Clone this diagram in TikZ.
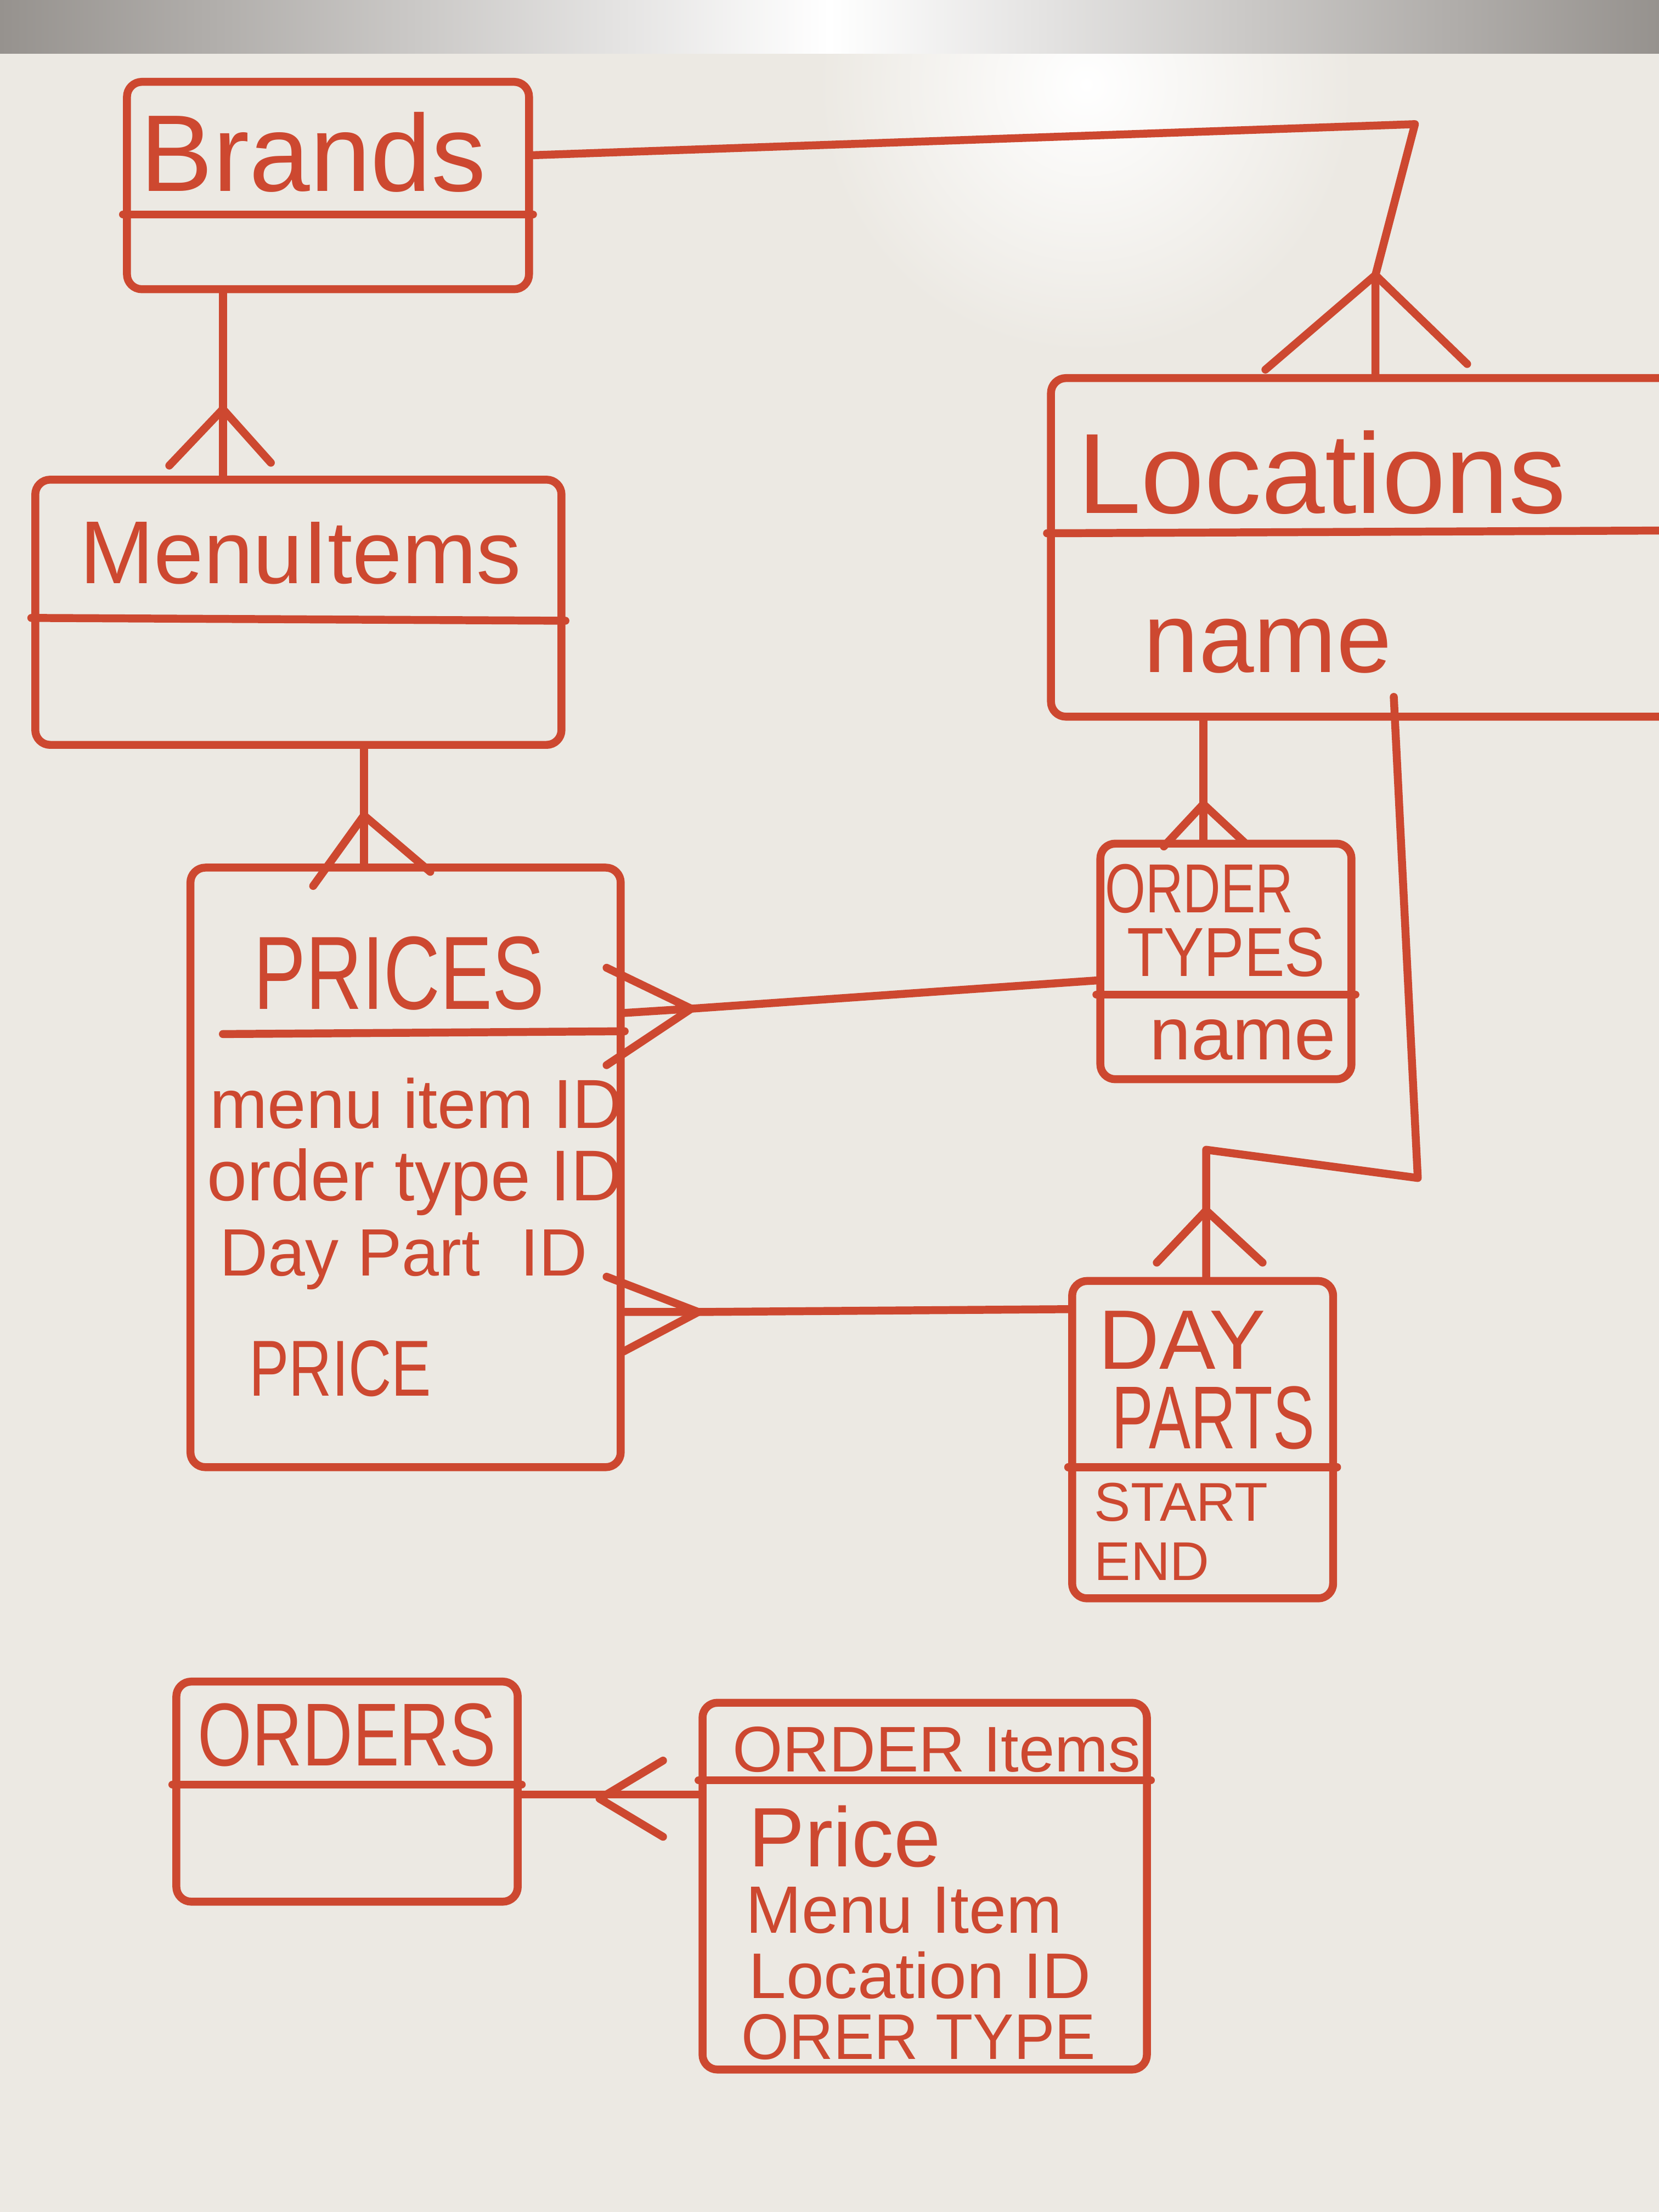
\documentclass[tikz,border=0pt]{standalone}
\usepackage{fontspec}
\usepackage{graphicx}
\setmainfont{Liberation Sans}
\usetikzlibrary{fit}
\definecolor{marker}{RGB}{205,72,48}
\definecolor{board}{RGB}{236,233,227}
\definecolor{frame}{RGB}{150,146,142}
\newcommand{\hsqz}[2]{\scalebox{#1}[1]{#2}}
\begin{document}
\begin{tikzpicture}[x=0.01cm,y=-0.01cm,
  ink/.style={draw=marker, line width=1.6pt, line cap=round, line join=round},
  box/.style={ink, rectangle, inner sep=0pt, rounded corners=3pt},
  lbl/.style={text=marker, inner sep=0pt, anchor=center},
  attr/.style={text=marker, inner sep=0pt, anchor=west},
  fs/.style={font=\fontsize{#1}{#1}\selectfont}]
\useasboundingbox (0,0) rectangle (1176,1568);
% board
\begin{scope}
\clip (0,0) rectangle (1176,1568);
\fill[board] (0,0) rectangle (1176,1568);
\shade[inner color=white, outer color=board] (770,60) circle (190);
\shade[left color=frame, right color=frame, middle color=white] (0,0) rectangle (1176,38);
\end{scope}

% ---- boxes ----
\node[box, fit={(90,58) (375,205)}] (brands) {};
\node[box, fit={(25,340) (398,528)}] (menu) {};
\node[box, fit={(135,615) (440,1040)}] (prices) {};
\node[box, fit={(745,268) (1190,508)}] (locations) {};
\node[box, fit={(780,598) (958,765)}] (ordertypes) {};
\node[box, fit={(760,908) (945,1133)}] (dayparts) {};
\node[box, fit={(125,1192) (367,1348)}] (orders) {};
\node[box, fit={(498,1207) (813,1467)}] (orderitems) {};

% dividers
\draw[ink] (brands.west |- 0,152) -- (brands.east |- 0,152);
\draw[ink] (menu.west |- 0,438) -- (menu.east |- 0,440);
\draw[ink] (158,733) -- (prices.east |- 0,731);
\draw[ink] (locations.west |- 0,378) -- (locations.east |- 0,376);
\draw[ink] (ordertypes.west |- 0,705) -- (ordertypes.east |- 0,705);
\draw[ink] (dayparts.west |- 0,1040) -- (dayparts.east |- 0,1040);
\draw[ink] (orders.west |- 0,1265) -- (orders.east |- 0,1265);
\draw[ink] (orderitems.west |- 0,1262) -- (orderitems.east |- 0,1262);

% ---- texts ----
\node[lbl, fs=22] (tBrands) at (222,108) {Brands};
\node[lbl, fs=18] (tMenu) at (213,392) {MenuItems};
\node[lbl, fs=21] (tPrices) at (283,690) {\hsqz{0.75}{PRICES}};
\node[attr, fs=14] (aMenuItem) at (148,782) {menu item ID};
\node[attr, fs=14.5] (aOrderType) at (146,838) {order type ID};
\node[attr, fs=13.5] (aDayPart) at (155,893) {Day Part\hspace{0.6em}ID};
\node[attr, fs=16] (aPrice) at (176,970) {\hsqz{0.75}{PRICE}};
\node[lbl, fs=23] (tLocations) at (937,335) {Locations};
\node[attr, fs=20] (aLocName) at (810,458) {name};
\node[lbl, fs=14] (tOT1) at (850,630) {\hsqz{0.75}{ORDER}};
\node[lbl, fs=14] (tOT2) at (869,675) {\hsqz{0.87}{TYPES}};
\node[lbl, fs=15] (aOTName) at (881,737) {name};
\node[lbl, fs=17] (tDP1) at (838,950) {DAY};
\node[lbl, fs=18] (tDP2) at (860,1005) {\hsqz{0.7}{PARTS}};
\node[attr, fs=11] (aStart) at (775,1065) {START};
\node[attr, fs=11] (aEnd) at (775,1107) {END};
\node[lbl, fs=18] (tOrders) at (246,1230) {\hsqz{0.78}{ORDERS}};
\node[lbl, fs=13] (tOrderItems) at (664,1240) {ORDER Items};
\node[attr, fs=17] (aOIPrice) at (530,1302) {Price};
\node[attr, fs=13.5] (aOIMenu) at (528,1354) {Menu Item};
\node[attr, fs=13] (aOILoc) at (530,1400) {\hsqz{1.05}{Location ID}};
\node[attr, fs=13] (aOIType) at (525,1444) {\hsqz{0.95}{ORER TYPE}};

% ---- connectors ----
% Brands - Locations (crow's foot at Locations)
\coordinate (bl1) at (1003,88);
\coordinate (bl2) at (975,195);
\draw[ink] (brands.east |- 0,110) -- (bl1) -- (bl2) -- (bl2 |- locations.north);
\draw[ink] (897,262) -- (bl2) -- (1040,258);

% Brands - Menu Items
\coordinate (bm) at (158,290);
\draw[ink] (bm |- brands.south) -- (bm |- menu.north);
\draw[ink] (120,330) -- (bm) -- (192,328);

% Menu Items - Prices
\coordinate (mp) at (258,578);
\draw[ink] (mp |- menu.south) -- (mp |- prices.north);
\draw[ink] (222,628) -- (mp) -- (305,618);

% Prices - Order Types
\coordinate (po) at (490,715);
\draw[ink] (prices.east |- 0,718) -- (po) -- (ordertypes.west |- 0,695);
\draw[ink] (430,686) -- (po) -- (430,755);

% Prices - Day Parts
\coordinate (pd) at (495,930);
\draw[ink] (prices.east |- 0,930) -- (pd) -- (dayparts.west |- 0,928);
\draw[ink] (430,905) -- (pd) -- (442,958);

% Locations - Order Types
\coordinate (lo) at (853,570);
\draw[ink] (lo |- locations.south) -- (lo |- ordertypes.north);
\draw[ink] (825,600) -- (lo) -- (882,597);

% Locations - Day Parts
\coordinate (ld1) at (988,494);
\coordinate (ld2) at (1005,835);
\coordinate (ld3) at (855,815);
\coordinate (ld4) at (855,858);
\draw[ink] (ld1) -- (ld2) -- (ld3) -- (ld3 |- dayparts.north);
\draw[ink] (820,895) -- (ld4) -- (895,895);

% Orders - Order Items
\coordinate (oo) at (425,1275);
\draw[ink] (orders.east |- 0,1272) -- (orderitems.west |- 0,1272);
\draw[ink] (470,1248) -- (oo) -- (470,1302);
\end{tikzpicture}
\end{document}
